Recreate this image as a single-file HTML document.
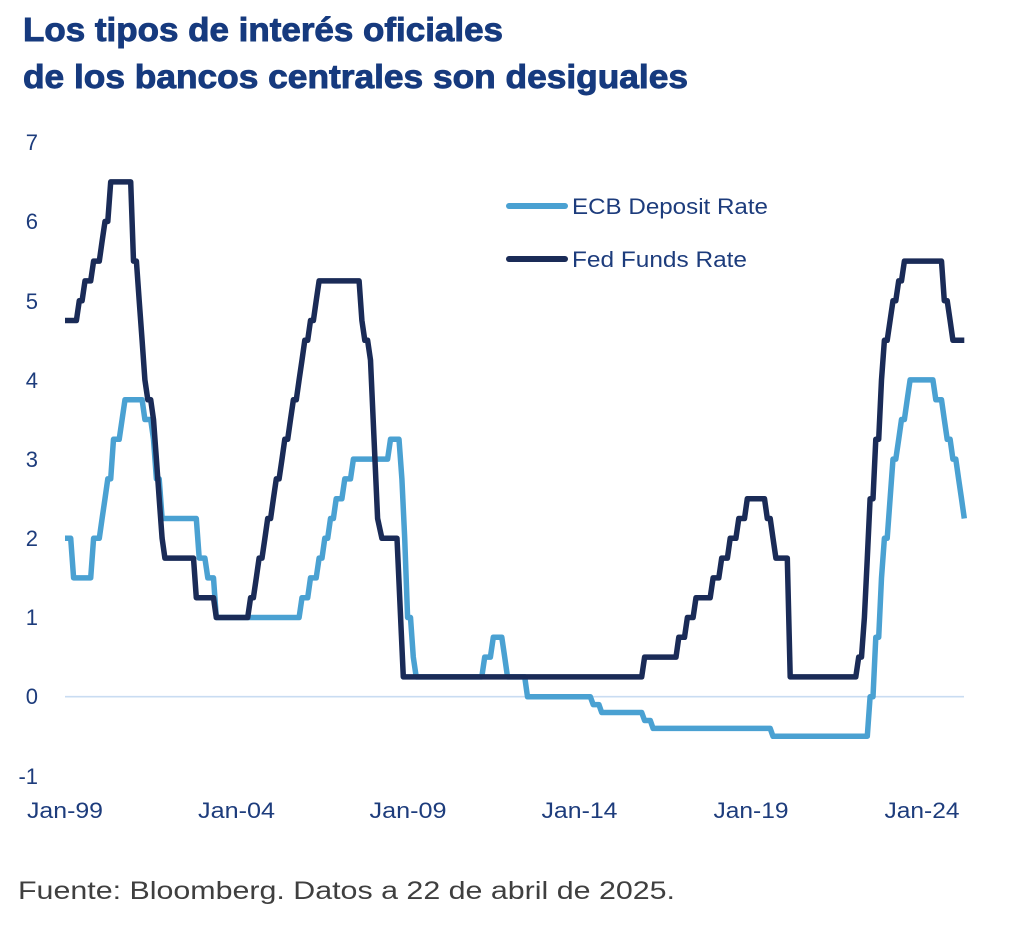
<!DOCTYPE html>
<html>
<head>
<meta charset="utf-8">
<style>
html,body{margin:0;padding:0;background:#ffffff;}
svg{display:block;}
text{font-family:"Liberation Sans",Arial,sans-serif;}
</style>
</head>
<body>
<svg width="1024" height="951" viewBox="0 0 1024 951" xmlns="http://www.w3.org/2000/svg">
<rect width="1024" height="951" fill="#ffffff"/>
<!-- Title -->
<text x="23" y="41" font-size="33" font-weight="bold" fill="#163a7e" stroke="#163a7e" stroke-width="0.9" textLength="480" lengthAdjust="spacingAndGlyphs">Los tipos de interés oficiales</text>
<text x="23" y="88" font-size="33" font-weight="bold" fill="#163a7e" stroke="#163a7e" stroke-width="0.9" textLength="665" lengthAdjust="spacingAndGlyphs">de los bancos centrales son desiguales</text>

<!-- Y axis labels -->
<g font-size="22" fill="#1d3c7c" text-anchor="end">
<text x="38" y="150">7</text>
<text x="38" y="229">6</text>
<text x="38" y="309">5</text>
<text x="38" y="388">4</text>
<text x="38" y="467">3</text>
<text x="38" y="546">2</text>
<text x="38" y="625">1</text>
<text x="38" y="704">0</text>
<text x="38" y="784">-1</text>
</g>

<!-- Zero line -->
<line x1="65" y1="696.7" x2="964" y2="696.7" stroke="#c9dcf2" stroke-width="1.6"/>

<!-- X axis labels -->
<g font-size="22" fill="#1d3c7c" text-anchor="middle">
<text x="65" y="818" textLength="76" lengthAdjust="spacingAndGlyphs">Jan-99</text>
<text x="236.5" y="818" textLength="77" lengthAdjust="spacingAndGlyphs">Jan-04</text>
<text x="408" y="818" textLength="77" lengthAdjust="spacingAndGlyphs">Jan-09</text>
<text x="579.5" y="818" textLength="76" lengthAdjust="spacingAndGlyphs">Jan-14</text>
<text x="751" y="818" textLength="75" lengthAdjust="spacingAndGlyphs">Jan-19</text>
<text x="922" y="818" textLength="75" lengthAdjust="spacingAndGlyphs">Jan-24</text>
</g>

<!-- ECB Deposit Rate -->
<polyline fill="none" stroke="#4aa1d2" stroke-width="5.5" stroke-linejoin="round" stroke-linecap="butt" points="
65.0,538.3 70.7,538.3 73.6,577.9 90.7,577.9 93.6,538.3 99.3,538.3 102.1,518.5 105.0,498.7 107.8,478.9 110.7,478.9
113.5,439.3 119.2,439.3 122.1,419.5 125.0,399.7 142.1,399.7 144.9,419.5 150.7,419.5 153.5,439.3 156.4,478.9 159.2,478.9
162.1,518.5 196.3,518.5 199.2,558.1 204.9,558.1 207.8,577.9 213.5,577.9 216.3,617.5 299.1,617.5 302.0,597.7 307.7,597.7
310.5,577.9 316.2,577.9 319.1,558.1 322.0,558.1 324.8,538.3 327.7,538.3 330.5,518.5 333.4,518.5 336.2,498.7 341.9,498.7
344.8,478.9 350.5,478.9 353.4,459.1 387.6,459.1 390.5,439.3 399.0,439.3 401.9,478.9 404.7,538.3 407.6,617.5 410.5,617.5
413.3,657.1 416.2,676.9 481.8,676.9 484.7,657.1 490.4,657.1 493.3,637.3 501.8,637.3 504.7,657.1 507.5,676.9 524.7,676.9
527.5,696.7 590.3,696.7 593.2,704.6 598.9,704.6 601.7,712.5 641.7,712.5 644.6,720.5 650.3,720.5 653.1,728.4 770.2,728.4
773.0,736.3 867.3,736.3 870.1,696.7 873.0,696.7 875.8,637.3 878.7,637.3 881.5,577.9 884.4,538.3 887.2,538.3 890.1,498.7
893.0,459.1 895.8,459.1 898.7,439.3 901.5,419.5 904.4,419.5 907.2,399.7 910.1,379.9 932.9,379.9 935.8,399.7 941.5,399.7
944.3,419.5 947.2,439.3 950.1,439.3 952.9,459.1 955.8,459.1 958.6,478.9 961.5,498.7 964.3,518.5"/>

<!-- Fed Funds Rate -->
<polyline fill="none" stroke="#1a2b57" stroke-width="5.5" stroke-linejoin="round" stroke-linecap="butt" points="
65.0,320.5 76.4,320.5 79.3,300.7 82.1,300.7 85.0,280.9 90.7,280.9 93.6,261.1 99.3,261.1 102.1,241.3 105.0,221.5
107.8,221.5 110.7,181.9 130.7,181.9 133.5,261.1 136.4,261.1 139.2,300.7 142.1,340.3 144.9,379.9 147.8,399.7 150.7,399.7
153.5,419.5 156.4,459.1 159.2,498.7 162.1,538.3 164.9,558.1 193.5,558.1 196.3,597.7 213.5,597.7 216.3,617.5 247.7,617.5
250.6,597.7 253.4,597.7 256.3,577.9 259.1,558.1 262.0,558.1 264.9,538.3 267.7,518.5 270.6,518.5 273.4,498.7 276.3,478.9
279.1,478.9 282.0,459.1 284.8,439.3 287.7,439.3 290.5,419.5 293.4,399.7 296.3,399.7 299.1,379.9 302.0,360.1 304.8,340.3
307.7,340.3 310.5,320.5 313.4,320.5 316.2,300.7 319.1,280.9 359.1,280.9 361.9,320.5 364.8,340.3 367.6,340.3 370.5,360.1
377.6,518.5 381.9,538.3 397.0,538.3 403.3,676.9 641.7,676.9 644.6,657.1 676.0,657.1 678.8,637.3 684.5,637.3 687.4,617.5
693.1,617.5 696.0,597.7 710.2,597.7 713.1,577.9 718.8,577.9 721.7,558.1 727.4,558.1 730.2,538.3 735.9,538.3 738.8,518.5
744.5,518.5 747.3,498.7 764.5,498.7 767.3,518.5 770.2,518.5 773.0,538.3 775.9,558.1 787.3,558.1 790.2,676.9 855.8,676.9
858.7,657.1 861.5,657.1 864.4,617.5 867.3,558.1 870.1,498.7 873.0,498.7 875.8,439.3 878.7,439.3 881.5,379.9 884.4,340.3
887.2,340.3 890.1,320.5 893.0,300.7 895.8,300.7 898.7,280.9 901.5,280.9 904.4,261.1 941.5,261.1 944.3,300.7 947.2,300.7
950.1,320.5 952.9,340.3 964.3,340.3"/>

<!-- Legend -->
<line x1="509" y1="206" x2="565" y2="206" stroke="#4aa1d2" stroke-width="6" stroke-linecap="round"/>
<text x="572" y="214" font-size="22" fill="#1d3c7c" textLength="196" lengthAdjust="spacingAndGlyphs">ECB Deposit Rate</text>
<line x1="509" y1="259" x2="565" y2="259" stroke="#1a2b57" stroke-width="6" stroke-linecap="round"/>
<text x="572" y="267" font-size="22" fill="#1d3c7c" textLength="175" lengthAdjust="spacingAndGlyphs">Fed Funds Rate</text>

<!-- Footer -->
<text x="18" y="899" font-size="25" fill="#3f3f3f" textLength="657" lengthAdjust="spacingAndGlyphs">Fuente: Bloomberg. Datos a 22 de abril de 2025.</text>
</svg>
</body>
</html>
